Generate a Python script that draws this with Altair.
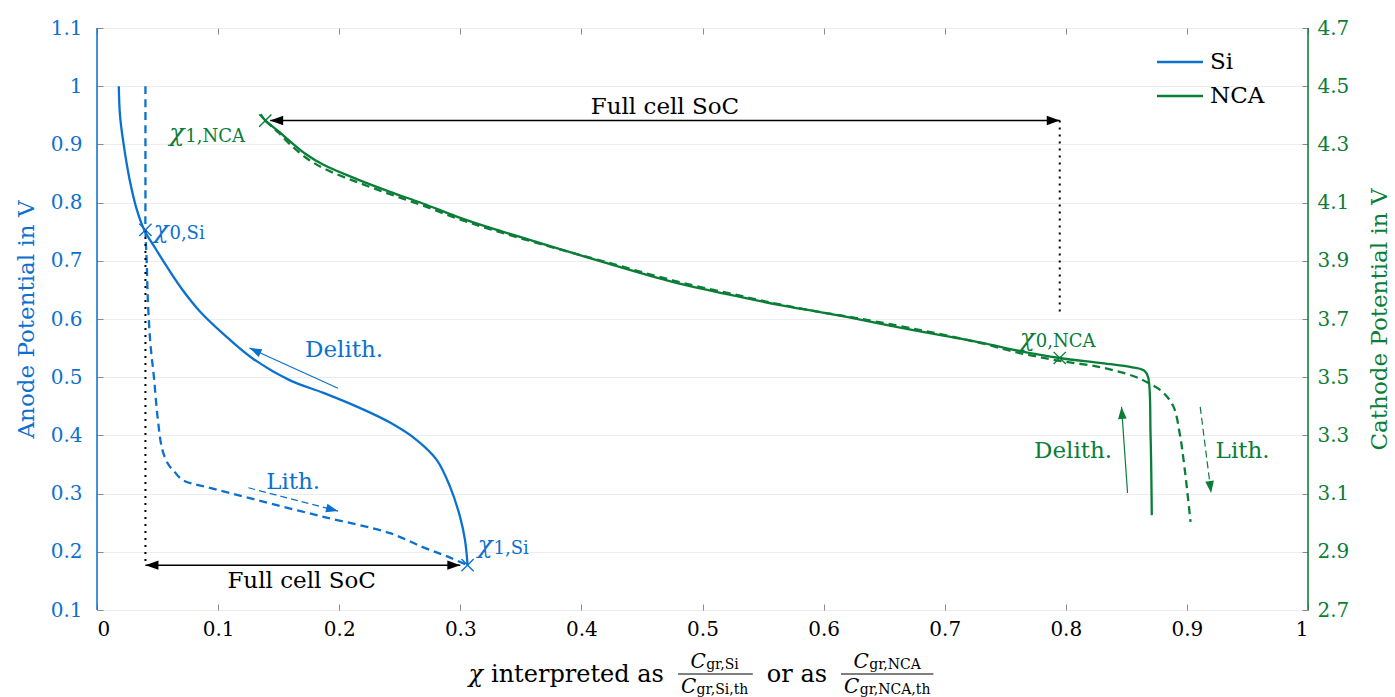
import math
import altair as alt
import pandas as pd

BLUE = "#0b71cf"
GREEN = "#0a7d36"
FONT = "DejaVu Serif"
FS = 20          # tick labels
TFS = 23         # texts
W, H = 1211, 582
ANODE_DOM = [0.1, 1.1]
CATH_DOM = [2.7, 4.7]

# ---------------- values ----------------
# Si anode, delithiation (solid)
si_delith_chi = [0.018, 0.019, 0.022, 0.027, 0.033, 0.039, 0.048, 0.058, 0.071, 0.085, 0.104,
                 0.128, 0.159, 0.187, 0.215, 0.242, 0.264, 0.2805, 0.2915, 0.2998, 0.3039, 0.306]
si_delith_v = [1.000, 0.950, 0.900, 0.839, 0.787, 0.753, 0.722, 0.689, 0.649, 0.613, 0.575,
               0.533, 0.495, 0.473, 0.449, 0.422, 0.392, 0.358, 0.312, 0.260, 0.220, 0.177]
# Si anode, lithiation (dashed)
si_lith_chi = [0.040, 0.040, 0.040, 0.040, 0.041, 0.042, 0.044, 0.047, 0.050, 0.054, 0.059,
               0.063, 0.071, 0.091, 0.132, 0.187, 0.242, 0.269, 0.288, 0.306]
si_lith_v = [1.000, 0.900, 0.800, 0.753, 0.700, 0.633, 0.560, 0.500, 0.432, 0.375, 0.350,
             0.340, 0.323, 0.311, 0.289, 0.260, 0.232, 0.208, 0.193, 0.177]
# NCA cathode, delithiation (solid)
nca_delith_chi = [0.135, 0.139, 0.150, 0.159, 0.172, 0.187, 0.215, 0.242, 0.269, 0.297, 0.325,
                  0.366, 0.421, 0.476, 0.531, 0.564, 0.597, 0.619, 0.674, 0.729, 0.762, 0.795,
                  0.828, 0.855, 0.865, 0.868, 0.870, 0.871]
nca_delith_v = [4.404, 4.382, 4.345, 4.312, 4.268, 4.230, 4.180, 4.137, 4.097, 4.052, 4.013,
                3.961, 3.892, 3.827, 3.776, 3.748, 3.724, 3.707, 3.662, 3.620, 3.590, 3.566,
                3.549, 3.534, 3.522, 3.500, 3.300, 3.026]
# NCA cathode, lithiation (dashed)
nca_lith_chi = [0.139, 0.150, 0.159, 0.172, 0.187, 0.215, 0.242, 0.269, 0.297, 0.325, 0.366,
                0.421, 0.476, 0.531, 0.564, 0.597, 0.619, 0.674, 0.729, 0.762, 0.795, 0.828,
                0.855, 0.867, 0.880, 0.889, 0.894, 0.898, 0.903]
nca_lith_v = [4.382, 4.340, 4.302, 4.256, 4.218, 4.170, 4.129, 4.090, 4.046, 4.008, 3.958,
              3.895, 3.832, 3.780, 3.750, 3.724, 3.709, 3.667, 3.618, 3.583, 3.556, 3.535,
              3.505, 3.483, 3.449, 3.398, 3.308, 3.191, 3.003]

# characteristic points
si_mark_chi = [0.040, 0.306]
si_mark_v = [0.753, 0.177]
nca_mark_chi = [0.139, 0.795]
nca_mark_v = [4.382, 3.566]

# axis ticks
x_ticks = [0, 0.1, 0.2, 0.3, 0.4, 0.5, 0.6, 0.7, 0.8, 0.9, 1.0]
anode_ticks = [0.1, 0.2, 0.3, 0.4, 0.5, 0.6, 0.7, 0.8, 0.9, 1.0, 1.1]
cath_ticks = [2.7, 2.9, 3.1, 3.3, 3.5, 3.7, 3.9, 4.1, 4.3, 4.5, 4.7]

# legend entries
legend_names = ["Si", "NCA"]
legend_colors = [BLUE, GREEN]

# annotation arrows (start chi, start V, end chi, end V)
si_soc_arrow = [0.040, 0.177, 0.300, 0.177]
nca_soc_arrow = [0.143, 4.382, 0.795, 4.382]
si_delith_arrow = [0.199, 0.481, 0.126, 0.550]
si_lith_arrow = [0.125, 0.310, 0.199, 0.270]
nca_delith_arrow = [0.851, 3.102, 0.846, 3.398]
nca_lith_arrow = [0.911, 3.398, 0.920, 3.102]
si_dotted = [0.040, 0.753, 0.040, 0.177]
nca_dotted = [0.795, 4.382, 0.795, 3.724]

# annotation texts (text, chi, V)
si_texts = [("Full cell SoC", 0.169, 0.150), ("Delith.", 0.204, 0.547), ("Lith.", 0.162, 0.320)]
nca_texts = [("Full cell SoC", 0.469, 4.428), ("Delith.", 0.806, 3.246), ("Lith.", 0.946, 3.246)]

# ---------------- helpers ----------------
dummy = pd.DataFrame({"d": [0]})
XSCALE = alt.Scale(domain=[0, 1], nice=False, zero=False)
COLOR = alt.Scale(domain=legend_names, range=legend_colors)

bottom_axis = alt.Axis(orient="bottom", values=x_ticks, format="~g", title=None, domain=False,
                       offset=-6, tickSize=6, tickColor="#8a8a8a", labelPadding=9,
                       labelFont=FONT, labelFontSize=FS, labelColor="black", grid=False)
top_axis = alt.Axis(orient="top", values=x_ticks, labels=False, title=None, domain=False,
                    offset=-6, tickSize=6, tickColor="#8a8a8a", grid=False)
left_axis = alt.Axis(orient="left", values=anode_ticks, format="~g", title="Anode Potential in V",
                     domain=False, offset=-6, tickSize=6, tickColor="#8a8a8a", labelPadding=15,
                     labelFont=FONT, labelFontSize=FS, labelColor=BLUE, titleFont=FONT,
                     titleFontSize=TFS, titleFontWeight="normal", titleColor=BLUE,
                     titlePadding=12, grid=True, gridColor="#ececec", gridWidth=1)
right_axis = alt.Axis(orient="right", values=cath_ticks, format="~g",
                      title="Cathode Potential in V", domain=False, offset=-6, tickSize=6,
                      tickColor="#8a8a8a", labelPadding=9, labelFont=FONT, labelFontSize=FS,
                      labelColor=GREEN, titleFont=FONT, titleFontSize=TFS,
                      titleFontWeight="normal", titleColor=GREEN, titleAngle=270,
                      titleBaseline="top", titlePadding=20, grid=False)


def xs(f, axis):
    return alt.X(f"{f}:Q", scale=XSCALE, axis=axis)


def ys(f, dom, axis):
    return alt.Y(f"{f}:Q", scale=alt.Scale(domain=dom, nice=False, zero=False), axis=axis)


def curve(chi, v, name, dashed, xaxis, dom, yaxis):
    df = pd.DataFrame({"chi": chi, "v": v, "electrode": name, "i": range(len(chi))})
    props = dict(strokeWidth=2.3, strokeCap="butt", interpolate="catmull-rom")
    if dashed:
        props["strokeDash"] = [8, 5]
    return alt.Chart(df).mark_line(**props).encode(
        x=xs("chi", xaxis), y=ys("v", dom, yaxis),
        color=alt.Color("electrode:N", scale=COLOR, legend=None),
        order="i:Q")


def segment(seg, xaxis, dom, yaxis, color="black", width=1.4, dash=None):
    df = pd.DataFrame({"x1": [seg[0]], "y1": [seg[1]], "x2": [seg[2]], "y2": [seg[3]]})
    props = dict(color=color, strokeWidth=width)
    if dash:
        props["strokeDash"] = dash
    return alt.Chart(df).mark_rule(**props).encode(
        x=xs("x1", xaxis), y=ys("y1", dom, yaxis), x2="x2:Q", y2="y2:Q")


HEAD = "M0,-1L0.72,1L-0.72,1Z"


def heads(segs, both, xaxis, dom, yaxis, color="black", L=13):
    span = dom[1] - dom[0]
    rows = []
    for s in segs:
        ends = [(s[0], s[1], s[2], s[3])]
        if both:
            ends.append((s[2], s[3], s[0], s[1]))
        for x1, y1, x2, y2 in ends:
            dxp = (x2 - x1) * W
            dyp = -(y2 - y1) * H / span
            n = math.hypot(dxp, dyp)
            ux, uy = dxp / n, dyp / n
            ang = math.degrees(math.atan2(ux, -uy)) % 360
            rows.append({"x": x2 - (L / 2) * ux / W, "y": y2 + (L / 2) * uy * span / H, "a": ang})
    df = pd.DataFrame(rows)
    return alt.Chart(df).mark_point(shape=HEAD, filled=True, size=L * L, color=color,
                                    opacity=1, strokeWidth=0).encode(
        x=xs("x", xaxis), y=ys("y", dom, yaxis), angle=alt.Angle("a:Q", scale=None))


def crosses(chi, v, xaxis, dom, yaxis, color):
    df = pd.DataFrame({"chi": chi, "v": v})
    return alt.Chart(df).mark_point(shape="M-1,-1L1,1M-1,1L1,-1", filled=False, size=150,
                                    strokeWidth=1.4, color=color, opacity=1).encode(
        x=xs("chi", xaxis), y=ys("v", dom, yaxis))


def texts(items, xaxis, dom, yaxis, color):
    df = pd.DataFrame({"t": [t[0] for t in items], "chi": [t[1] for t in items],
                       "v": [t[2] for t in items]})
    return alt.Chart(df).mark_text(font=FONT, fontSize=TFS, color=color, align="center",
                                   baseline="middle").encode(
        x=xs("chi", xaxis), y=ys("v", dom, yaxis), text="t:N")


def sublabel(chi, v, sub, dx, dy, xaxis, dom, yaxis, color):
    df = pd.DataFrame({"chi": [chi], "v": [v]})
    base = alt.Chart(df).encode(x=xs("chi", xaxis), y=ys("v", dom, yaxis))
    a = base.mark_text(text="χ", font=FONT, fontSize=TFS + 2, fontStyle="italic", color=color,
                       align="left", baseline="middle", dx=dx, dy=dy)
    b = base.mark_text(text=sub, font=FONT, fontSize=18, color=color, align="left",
                       baseline="middle", dx=dx + 16, dy=dy + 4)
    return [a, b]


# ---------------- Si (anode) group ----------------
SA = (bottom_axis, ANODE_DOM, left_axis)
si_layers = [
    curve(si_delith_chi, si_delith_v, "Si", False, *SA),
    curve(si_lith_chi, si_lith_v, "Si", True, *SA),
    segment(si_dotted, *SA, width=2, dash=[2, 5]),
    segment(si_soc_arrow, *SA, width=1.5),
    heads([si_soc_arrow], True, *SA),
    segment(si_delith_arrow, *SA, color=BLUE, width=1.2),
    heads([si_delith_arrow], False, *SA, color=BLUE, L=12),
    segment(si_lith_arrow, *SA, color=BLUE, width=1.2, dash=[7, 4]),
    heads([si_lith_arrow], False, *SA, color=BLUE, L=12),
    crosses(si_mark_chi, si_mark_v, *SA, BLUE),
    texts([si_texts[0]], *SA, "black"),
    texts(si_texts[1:], *SA, BLUE),
]
si_layers += sublabel(si_mark_chi[0], si_mark_v[0], "0,Si", 8, 0, *SA, BLUE)
si_layers += sublabel(si_mark_chi[1], si_mark_v[1], "1,Si", 10, -20, *SA, BLUE)

# frame edge in axis colour
si_layers.append(alt.Chart(dummy).mark_rule(color=BLUE, strokeWidth=1.5).encode(
    x=alt.value(0), y=alt.value(0), y2=alt.value(H)))

# legend (top right, inside the plot)
for k, (nm, colr) in enumerate(zip(legend_names, legend_colors)):
    yy = 34 + 34 * k
    si_layers.append(alt.Chart(dummy).mark_rule(color=colr, strokeWidth=2.3).encode(
        x=alt.value(1060), x2=alt.value(1106), y=alt.value(yy)))
    si_layers.append(alt.Chart(dummy).mark_text(text=nm, font=FONT, fontSize=TFS, color="black",
                                                align="left", baseline="middle").encode(
        x=alt.value(1113), y=alt.value(yy)))

# x axis title built from text pieces (fractions)
CW = {'g': .64, 'r': .478, ',': .318, 'S': .685, 'i': .32, 't': .402, 'h': .644, 'N': .8,
      'C': .733, 'A': .722, 'n': .644, 'e': .592, 'p': .64, 'd': .64, ' ': .318, 'a': .596,
      's': .513, 'o': .602, 'χ': .6}


def tw(s, size):
    return sum(CW.get(c, .6) for c in s) * size


def piece(t, px, py, size, italic=False, align="left"):
    return alt.Chart(dummy).mark_text(text=t, font=FONT, fontSize=size, color="black",
                                      fontStyle="italic" if italic else "normal",
                                      align=align, baseline="middle").encode(
        x=alt.value(px), y=alt.value(py))


TS, CS, SS = 24, 20, 14
YM, YN, YD, YB = 647, 634, 659, 646
fr1 = ("gr,Si", "gr,Si,th")
fr2 = ("gr,NCA", "gr,NCA,th")


def frac_w(fr):
    return max(tw("C", CS) + 1 + tw(fr[0], SS), tw("C", CS) + 1 + tw(fr[1], SS)) + 6


total = (tw("χ", TS) + 8 + tw("interpreted as", TS) + 14 + frac_w(fr1) + 14 + tw("or as", TS)
         + 14 + frac_w(fr2))
cx = 604 - total / 2
title_layers = [piece("χ", cx, YM, TS, italic=True)]
cx += tw("χ", TS) + 8
title_layers.append(piece("interpreted as", cx, YM, TS))
cx += tw("interpreted as", TS) + 14


def add_frac(fr, x0):
    fw = frac_w(fr)
    out = []
    for sub, yy in ((fr[0], YN), (fr[1], YD)):
        w = tw("C", CS) + 1 + tw(sub, SS)
        s = x0 + (fw - w) / 2
        out.append(piece("C", s, yy, CS, italic=True))
        out.append(piece(sub, s + tw("C", CS) + 1, yy + 3, SS))
    out.append(alt.Chart(dummy).mark_rule(color="black", strokeWidth=1).encode(
        x=alt.value(x0), x2=alt.value(x0 + fw), y=alt.value(YB)))
    return out


title_layers += add_frac(fr1, cx)
cx += frac_w(fr1) + 14
title_layers.append(piece("or as", cx, YM, TS))
cx += tw("or as", TS) + 14
title_layers += add_frac(fr2, cx)
si_layers += title_layers

si_group = alt.layer(*si_layers)

# ---------------- NCA (cathode) group ----------------
NA = (top_axis, CATH_DOM, right_axis)
nca_layers = [
    curve(nca_delith_chi, nca_delith_v, "NCA", False, *NA),
    curve(nca_lith_chi, nca_lith_v, "NCA", True, *NA),
    segment(nca_dotted, *NA, width=2, dash=[2, 5]),
    segment(nca_soc_arrow, *NA, width=1.5),
    heads([nca_soc_arrow], True, *NA),
    segment(nca_delith_arrow, *NA, color=GREEN, width=1.2),
    heads([nca_delith_arrow], False, *NA, color=GREEN, L=12),
    segment(nca_lith_arrow, *NA, color=GREEN, width=1.2, dash=[7, 4]),
    heads([nca_lith_arrow], False, *NA, color=GREEN, L=12),
    crosses(nca_mark_chi, nca_mark_v, *NA, GREEN),
    texts([nca_texts[0]], *NA, "black"),
    texts(nca_texts[1:], *NA, GREEN),
]
nca_layers += sublabel(nca_mark_chi[0], nca_mark_v[0], "1,NCA", -96, 12, *NA, GREEN)
nca_layers += sublabel(nca_mark_chi[1], nca_mark_v[1], "0,NCA", -40, -20, *NA, GREEN)
nca_layers.append(alt.Chart(dummy).mark_rule(color=GREEN, strokeWidth=1.5).encode(
    x=alt.value(W), y=alt.value(0), y2=alt.value(H)))

nca_group = alt.layer(*nca_layers)

chart = alt.layer(si_group, nca_group).resolve_scale(
    y="independent", x="shared", color="shared").resolve_axis(x="independent").properties(
    width=W, height=H,
    autosize=alt.AutoSizeParams(type="none"),
    padding={"left": 97, "top": 28, "right": 87, "bottom": 87},
).configure_view(stroke="black", strokeWidth=1.2).configure(background="white")

chart.save("out.html", embed_options={"renderer": "svg", "actions": False})
